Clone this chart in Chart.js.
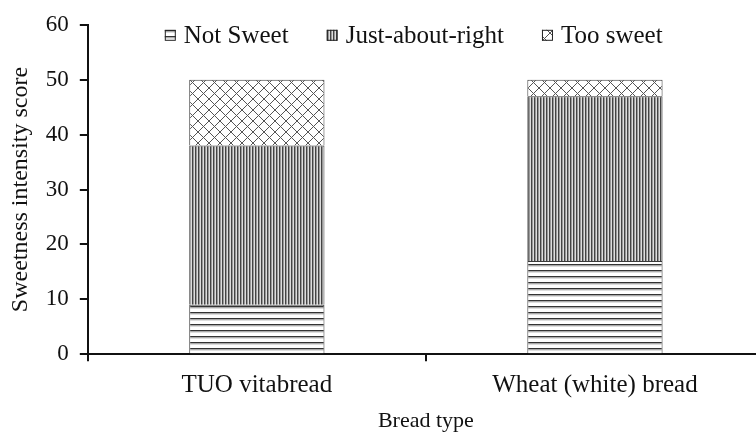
<!DOCTYPE html>
<html>
<head>
<meta charset="utf-8">
<script src="https://cdn.jsdelivr.net/npm/chart.js@4.4.1/dist/chart.umd.min.js"></script>
<style>
  html, body { margin: 0; padding: 0; background: #fff; overflow: hidden; }
  #wrap { position: relative; width: 764px; height: 432px; }
</style>
</head>
<body>
<div id="wrap"><canvas id="chart"></canvas></div>
<script>
const categories = ['TUO vitabread', 'Wheat (white) bread'];
const notSweet = [9, 17];
const justAboutRight = [29, 30];
const tooSweet = [12, 3];
const yTicks = [0, 10, 20, 30, 40, 50, 60];

// small tiles used as fill patterns for the bars
function makePattern(kind) {
    const c = document.createElement('canvas');
    const ctx = c.getContext('2d');
    if (kind === 'horizontal') {
        c.width = 6; c.height = 6;
        ctx.fillStyle = '#fff';
        ctx.fillRect(0, 0, 6, 6);
        ctx.fillStyle = '#333';
        ctx.fillRect(0, 0, 6, 1.5);
        ctx.fillStyle = '#bbb';
        ctx.fillRect(0, 1.5, 6, 1);
    } else if (kind === 'vertical') {
        c.width = 3; c.height = 3;
        ctx.fillStyle = '#ddd';
        ctx.fillRect(0, 0, 3, 3);
        ctx.fillStyle = '#444';
        ctx.fillRect(0, 0, 1, 3);
        ctx.fillStyle = '#999';
        ctx.fillRect(1, 0, 1, 3);
    } else {
        c.width = 11; c.height = 11;
        ctx.fillStyle = '#fff';
        ctx.fillRect(0, 0, 11, 11);
        ctx.strokeStyle = '#555';
        ctx.lineWidth = 1;
        ctx.beginPath();
        ctx.moveTo(0, 0); ctx.lineTo(11, 11);
        ctx.moveTo(11, 0); ctx.lineTo(0, 11);
        ctx.stroke();
    }
    return ctx.createPattern(c, 'repeat');
}

const serif = 'Liberation Serif';
const border = '#3a3a3a';

// legend sits inside the plot area, in one row, like the original
const innerLegend = {
    id: 'innerLegend',
    afterDraw(chart) {
        const ctx = chart.ctx;
        const area = chart.chartArea;
        const y = area.top + 11;
        let x = area.left + 77;
        ctx.save();
        ctx.font = '25px ' + serif;
        ctx.textBaseline = 'middle';
        chart.data.datasets.forEach(ds => {
            ctx.fillStyle = ds.backgroundColor;
            ctx.fillRect(x, y - 6, 11, 11);
            ctx.strokeStyle = '#222';
            ctx.lineWidth = 1;
            ctx.strokeRect(x + 0.5, y - 5.5, 10, 10);
            x += 19;
            ctx.fillStyle = '#111';
            ctx.fillText(ds.label, x, y + 1);
            x += ctx.measureText(ds.label).width + 38;
        });
        ctx.restore();
    },
};

const ctx = document.getElementById('chart').getContext('2d');
new Chart(ctx, {
    type: 'bar',
    data: {
        labels: categories,
        datasets: [
            { label: 'Not Sweet', data: notSweet, backgroundColor: makePattern('horizontal'), borderColor: border, borderWidth: 1 },
            { label: 'Just-about-right', data: justAboutRight, backgroundColor: makePattern('vertical'), borderColor: border, borderWidth: 1 },
            { label: 'Too sweet', data: tooSweet, backgroundColor: makePattern('cross'), borderColor: border, borderWidth: 1 },
        ],
    },
    plugins: [innerLegend],
    options: {
        responsive: true,
        maintainAspectRatio: false,
        animation: false,
        layout: { padding: { top: 23, left: 6, right: 0, bottom: 0 } },
        datasets: { bar: { barPercentage: 0.4, categoryPercentage: 1 } },
        plugins: {
            tooltip: { enabled: false },
            legend: { display: false },
        },
        scales: {
            x: {
                stacked: true,
                border: { color: '#111', width: 2 },
                grid: { offset: true, drawOnChartArea: false, color: '#111', lineWidth: 2, tickLength: 7 },
                ticks: { color: '#111', font: { family: serif, size: 25, lineHeight: 1.15 }, padding: 10 },
                title: { display: true, text: 'Bread type', color: '#111', font: { family: serif, size: 22, lineHeight: 1 }, padding: { top: 0, bottom: 0 } },
            },
            y: {
                stacked: true,
                min: 0,
                max: 60,
                afterBuildTicks: axis => { axis.ticks = yTicks.map(v => ({ value: v })); },
                border: { color: '#111', width: 2 },
                grid: { drawOnChartArea: false, color: '#111', lineWidth: 2, tickLength: 8 },
                ticks: { color: '#111', font: { family: serif, size: 23 }, padding: 11 },
                title: { display: true, text: 'Sweetness intensity score', color: '#111', font: { family: serif, size: 24 }, padding: { top: 0, bottom: 0 } },
            },
        },
    },
});
</script>
</body>
</html>
